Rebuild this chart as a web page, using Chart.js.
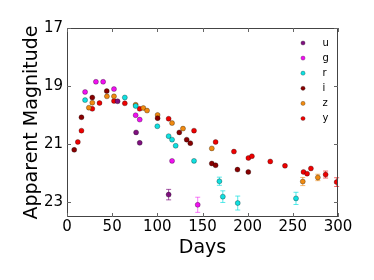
<!DOCTYPE html>
<html><head><meta charset="utf-8">
<script src="https://cdn.jsdelivr.net/npm/chart.js@4"></script>
<style>html,body{margin:0;padding:0;background:#fff}</style>
</head><body>
<canvas id="c" width="374" height="280" style="display:block;width:374px;height:280px"></canvas>
<script>
const bandNames = ['u', 'g', 'r', 'i', 'z', 'y'];
const bandColors = ['#7f107f', '#f010f0', '#10e0e0', '#880000', '#f08a10', '#ee0000'];
const bandErrColors = ['rgba(127,16,127,0.7)', 'rgba(240,16,240,0.55)', 'rgba(16,224,224,0.7)', 'rgba(136,0,0,0.6)', 'rgba(240,138,16,0.6)', 'rgba(238,0,0,0.6)'];

const uDays = [56, 76.5, 80.5, 112.5];
const uMag  = [19.52, 20.59, 20.95, 22.73];
const uErr  = [0.03, 0.04, 0.05, 0.18];

const gDays = [20, 32, 40, 52, 76, 80.5, 116.3, 144.7];
const gMag  = [19.2, 18.85, 18.85, 19.1, 20.0, 20.15, 21.57, 23.08];
const gErr  = [0.02, 0.02, 0.02, 0.02, 0.03, 0.03, 0.05, 0.26];

const rDays = [20, 64, 76, 100, 112.5, 116.3, 120.3, 140.6, 168.7, 172.5, 189, 253.5];
const rMag  = [19.48, 19.39, 19.68, 20.38, 20.72, 20.84, 21.05, 21.57, 22.27, 22.8, 23.02, 22.86];
const rErr  = [0.02, 0.02, 0.02, 0.03, 0.04, 0.04, 0.05, 0.05, 0.14, 0.2, 0.24, 0.21];

const iDays = [8, 16, 28, 44, 100.3, 124.3, 132.5, 136.5, 160.3, 164.5, 188.7, 200.7];
const iMag  = [21.19, 20.07, 19.39, 19.17, 20.1, 20.59, 20.84, 20.96, 21.66, 21.72, 21.87, 21.95];
const iErr  = [0.02, 0.02, 0.02, 0.02, 0.03, 0.03, 0.03, 0.03, 0.05, 0.05, 0.06, 0.06];

const zDays = [24.2, 28, 44.2, 52, 76, 84.5, 88.6, 100.3, 116.3, 128.4, 160.3, 261, 277.7];
const zMag  = [19.74, 19.57, 19.35, 19.35, 19.64, 19.75, 19.84, 19.99, 20.27, 20.46, 21.14, 22.28, 22.14];
const zErr  = [0.02, 0.02, 0.02, 0.02, 0.02, 0.02, 0.02, 0.03, 0.03, 0.03, 0.04, 0.14, 0.11];

const yDays = [12, 16, 28, 36, 52, 64, 80.4, 112.5, 140.6, 164.5, 184.8, 200.8, 204.7, 225, 241.3, 261.8, 265.8, 270, 286.3, 298.5];
const yMag  = [20.92, 20.53, 19.78, 19.58, 19.51, 19.59, 19.78, 20.12, 20.53, 20.92, 21.25, 21.47, 21.41, 21.59, 21.74, 21.95, 22.01, 21.83, 22.04, 22.3];
const yErr  = [0.02, 0.02, 0.02, 0.02, 0.02, 0.02, 0.02, 0.03, 0.03, 0.03, 0.04, 0.04, 0.04, 0.05, 0.05, 0.07, 0.07, 0.06, 0.12, 0.15];

const xTickValues = [0, 50, 100, 150, 200, 250, 300];
const yTickValues = [17, 19, 21, 23];

const allDays = [uDays, gDays, rDays, iDays, zDays, yDays];
const allMags = [uMag, gMag, rMag, iMag, zMag, yMag];
const allErrs = [uErr, gErr, rErr, iErr, zErr, yErr];

const datasets = bandNames.map((name, k) => ({
  label: name,
  data: allDays[k].map((d, j) => ({x: d, y: allMags[k][j]})),
  errors: allErrs[k],
  backgroundColor: bandColors[k],
  borderColor: 'rgba(0,0,0,0.5)',
  borderWidth: 0.6,
  pointRadius: 2.5,
  pointHoverRadius: 2.5
}));

const FONT = "'DejaVu Sans', sans-serif";

const extrasPlugin = {
  id: 'extras',
  beforeDatasetsDraw(chart) {
    const ctx = chart.ctx, xs = chart.scales.x, ys = chart.scales.y;
    ctx.save();
    ctx.lineWidth = 1;
    chart.data.datasets.forEach((ds, k) => {
      ctx.strokeStyle = bandErrColors[k];
      ds.data.forEach((p, j) => {
        const e = ds.errors[j];
        const px = xs.getPixelForValue(p.x);
        const y1 = ys.getPixelForValue(p.y - e), y2 = ys.getPixelForValue(p.y + e);
        if (Math.abs(y2 - y1) < 6) return;
        ctx.beginPath();
        ctx.moveTo(px, y1); ctx.lineTo(px, y2);
        ctx.moveTo(px - 2.5, y1); ctx.lineTo(px + 2.5, y1);
        ctx.moveTo(px - 2.5, y2); ctx.lineTo(px + 2.5, y2);
        ctx.stroke();
      });
    });
    ctx.restore();
  },
  afterDraw(chart) {
    const ctx = chart.ctx, a = chart.chartArea, xs = chart.scales.x, ys = chart.scales.y;
    ctx.save();
    ctx.strokeStyle = '#444';
    ctx.lineWidth = 1;
    ctx.strokeRect(a.left + 0.5, a.top + 0.5, a.right - a.left - 1, a.bottom - a.top - 1);
    ctx.strokeStyle = '#666';
    ctx.beginPath();
    xTickValues.forEach(v => {
      const px = Math.round(xs.getPixelForValue(v)) + 0.5;
      ctx.moveTo(px, a.bottom); ctx.lineTo(px, a.bottom - 4);
      ctx.moveTo(px, a.top); ctx.lineTo(px, a.top + 4);
    });
    yTickValues.forEach(v => {
      const py = Math.round(ys.getPixelForValue(v)) + 0.5;
      ctx.moveTo(a.left, py); ctx.lineTo(a.left + 4, py);
      ctx.moveTo(a.right, py); ctx.lineTo(a.right - 4, py);
    });
    ctx.stroke();
    // legend
    ctx.font = '10px ' + FONT;
    ctx.textBaseline = 'middle';
    ctx.textAlign = 'left';
    chart.data.datasets.forEach((ds, k) => {
      const cy = a.top + 15 + k * 15.1;
      const cx = a.left + 236;
      ctx.beginPath();
      ctx.arc(cx, cy, 2.1, 0, Math.PI * 2);
      ctx.fillStyle = bandColors[k];
      ctx.fill();
      ctx.lineWidth = 0.5;
      ctx.strokeStyle = 'rgba(0,0,0,0.5)';
      ctx.stroke();
      ctx.fillStyle = '#000';
      ctx.fillText(ds.label, cx + 19.5, cy);
    });
    ctx.restore();
  }
};

new Chart(document.getElementById('c'), {
  type: 'scatter',
  data: {datasets},
  plugins: [extrasPlugin],
  options: {
    responsive: false,
    animation: false,
    devicePixelRatio: 1,
    layout: {padding: {top: 28, right: 36, left: 0, bottom: 0}},
    plugins: {legend: {display: false}, tooltip: {enabled: false}},
    scales: {
      x: {
        type: 'linear', min: 0, max: 300,
        afterBuildTicks: s => { s.ticks = xTickValues.map(v => ({value: v})); },
        afterFit: s => { s.height = 63; },
        grid: {display: false, drawTicks: false},
        border: {display: false},
        ticks: {color: '#000', font: {family: FONT, size: 15}, padding: 1, maxRotation: 0},
        title: {display: true, text: 'Days', color: '#000', font: {family: FONT, size: 19}, padding: {top: 0, bottom: 21}}
      },
      y: {
        type: 'linear', min: 17, max: 23.5, reverse: true,
        afterBuildTicks: s => { s.ticks = yTickValues.map(v => ({value: v})); },
        afterFit: s => { s.width = 67; },
        grid: {display: false, drawTicks: false},
        border: {display: false},
        ticks: {color: '#000', font: {family: FONT, size: 15}, padding: 4},
        title: {display: true, text: 'Apparent Magnitude', color: '#000', font: {family: FONT, size: 19}, padding: {top: 20.5, bottom: 0}}
      }
    }
  }
});
</script>
</body></html>
